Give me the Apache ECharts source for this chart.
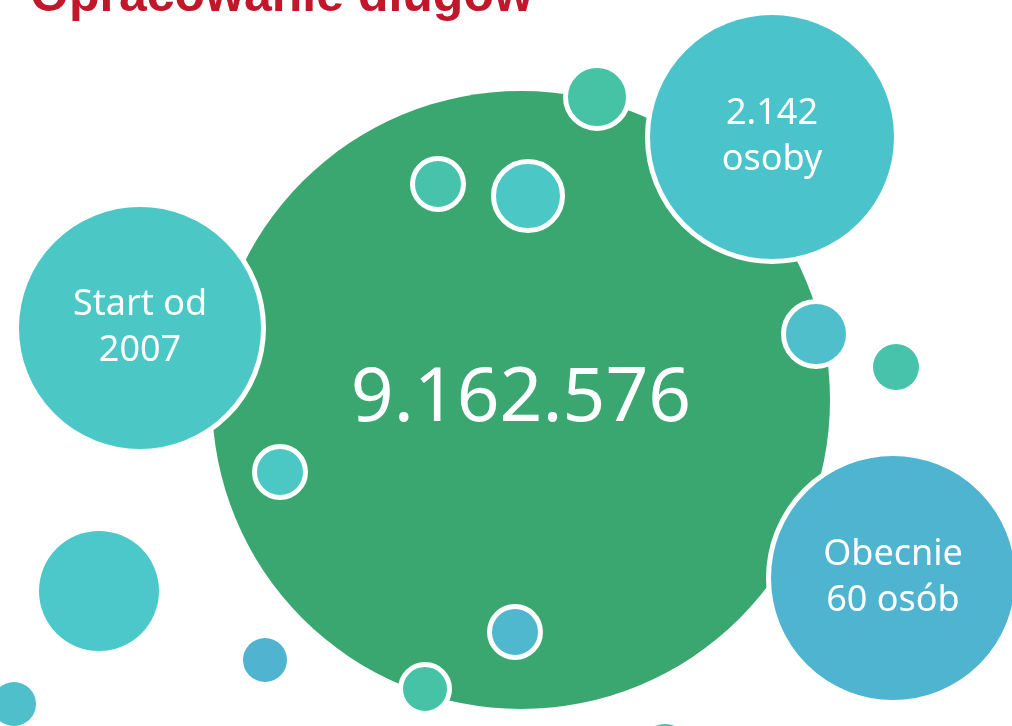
<!DOCTYPE html>
<html><head><meta charset="utf-8">
<script src="https://cdn.jsdelivr.net/npm/echarts@6/dist/echarts.min.js"></script>
<style>html,body{margin:0;padding:0;background:#fff}#c{width:1012px;height:726px}</style>
</head><body><div id="c"></div>
<script>
// Bubble data: centre x, centre y (page units), outer radius, label
const labels = ['9.162.576', 'Start od\n2007', '2.142\nosoby', 'Obecnie\n60 osób', '', '', '', '', '', '', '', '', '', '', '', ''];
const xs = [521, 140, 772, 893, 597, 438, 528, 816, 896, 280, 99, 265, 14, 425, 515, 665];
const ys = [400, 328, 137, 578, 97, 184, 196, 334, 367, 472, 591, 660, 704, 689, 632, 748];
const radii = [309, 126, 127, 127, 34, 28, 37, 35, 23, 28, 60, 22, 22, 27, 28, 24];
const bordered = [0, 1, 1, 1, 1, 1, 1, 1, 0, 1, 0, 0, 0, 1, 1, 0];
const palette = ['#39A76F', '#4BC7C6', '#4BC3CB', '#4FB4CF', '#46C2A5', '#47C3AB', '#4BC8C6', '#4FBFCB', '#46C3AA', '#4BC8C4', '#4CC8CA', '#50B4D0', '#4FBFCC', '#46C3A7', '#4FB8CF', '#46C3A7'];
const fontSizes = [75, 36, 36, 36];
const title = 'Opracowanie długów';

const BW = 5;
const data = xs.map((x, i) => {
  const b = bordered[i] ? BW : 0;
  return {
    value: [x, ys[i], radii[i]],
    symbolSize: 2 * radii[i] - b,
    itemStyle: { color: palette[i], borderColor: '#fff', borderWidth: b, opacity: 1 },
    label: {
      show: !!labels[i], formatter: labels[i], position: 'inside', color: '#fff',
      fontFamily: 'Noto Sans', fontSize: fontSizes[i] || 12,
      lineHeight: (fontSizes[i] || 12) * 1.28
    }
  };
});

const chart = echarts.init(document.getElementById('c'));
chart.setOption({
  animation: false,
  title: {
    text: title, left: 25, top: -33,
    textStyle: { color: '#C0172A', fontFamily: 'Liberation Sans', fontWeight: 'bold', fontSize: 50, lineHeight: 50 }
  },
  grid: { left: 0, right: 0, top: 0, bottom: 0 },
  xAxis: { type: 'value', min: 0, max: 1012, show: false },
  yAxis: { type: 'value', min: 0, max: 726, inverse: true, show: false },
  series: [{
    type: 'scatter', symbol: 'circle', data: data, silent: true, clip: false,
    itemStyle: { opacity: 1 },
    emphasis: { disabled: true }
  }]
});
</script></body></html>
